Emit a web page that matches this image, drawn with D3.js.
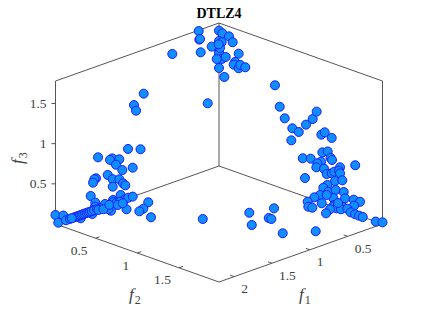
<!DOCTYPE html>
<html lang="en">
<head>
<meta charset="UTF-8">
<title>DTLZ4</title>
<script src="https://d3js.org/d3.v7.min.js"></script>
<style>
    html, body { margin: 0; padding: 0; background: #fff; }
    svg { display: block; }
    text { font-family: "Liberation Serif", serif; }
    .tick-label { font-size: 13.5px; fill: #404040; }
    .axis-line { stroke: #555; stroke-width: 1; fill: none; }
    .point { fill: #0f8fff; stroke: #1a1aff; stroke-width: 1; }
</style>
</head>
<body>
<script>
    const title = "DTLZ4";
    const f1Limits = [0.04, 2.2];
    const f2Limits = [0.02, 1.98];
    const f3Limits = [0, 1.78];
    const f1Ticks = [0.5, 1, 1.5, 2];
    const f2Ticks = [0.5, 1, 1.5];
    const f3Ticks = [0.5, 1, 1.5];

    // front of the f1 = min wall, then floor, then the f2 = min wall
    const f1Values = [
        0.04, 0.04, 0.04, 0.04, 0.04, 0.04, 0.04, 0.04, 0.04, 0.04,
        0.04, 0.04, 0.04, 0.04, 0.04, 0.04, 0.04, 0.04, 0.04,
        0.04, 0.04, 0.04, 0.04, 0.04, 0.04, 0.04, 0.04, 0.04, 0.04,
        0.04, 0.04, 0.04, 0.04, 0.04, 0.04, 0.04, 0.04, 0.04, 0.04,
        0.04, 0.04, 0.04, 0.04, 0.04, 0.04, 0.04, 0.04, 0.04, 0.04,
        0.04, 0.04, 0.04, 0.04, 0.04, 0.04, 0.04, 0.04, 0.04, 0.04,
        0.04, 0.04, 0.04, 0.04, 0.04, 0.04,
        0.04, 0.04, 0.04,
        0.056, 0.051, 0.113, 0.214, 0.04, 0.04, 0.04, 0.04, 0.04, 0.04,
        0.04, 0.04, 0.119, 0.208, 0.2,
        0.71, 0.922, 0.68, 0.681, 0.465, 0.872, 0.617, 1.134, 0.04,
        0.308, 0.3, 0.291, 0.657, 0.282, 0.136, 0.044, 0.07, 0.189,
        1.035, 1.163, 1.136, 1.242, 1.077, 1.638, 1.45, 1.48, 1.357, 1.401,
        1.317, 1.18, 1.51, 1.665, 1.687, 1.704, 1.444, 1.357, 1.308, 1.278,
        1.444, 1.735, 1.339, 1.674, 1.44, 1.436, 1.282, 1.238, 1.18,
        1.183, 1.457, 1.335, 1.41, 1.444, 1.586, 1.572, 1.415, 1.358, 1.546,
        1.612, 1.678, 1.77, 1.7, 1.927,
        1.965, 1.94, 1.92, 1.9, 1.876, 1.855, 1.833, 1.81, 1.788, 1.766, 1.744, 1.72, 1.69, 1.65,
        2.2, 2.097, 2.163, 2.061, 2.008, 1.986, 1.656, 1.609, 1.489, 1.436, 1.371
    ];
    const f2Values = [
        0.02, 0.06, 0.14, 0.184, 0.02, 0.052, 0.02, 0.02, 0.056, 0.1,
        0.02, 0.084, 0.256, 0.212, 0.196, 0.256, 0.275, 0.335, 0.032,
        0.691, 0.748, 0.808, 0.899, 0.976, 0.887, 1.063, 1.143, 1.191, 1.247,
        1.287, 1.371, 1.259, 1.323, 1.024, 1.119, 1.357, 1.375, 1.243, 1.199,
        1.187, 1.279, 1.311, 1.371, 1.402, 1.471, 1.459, 1.471, 1.653, 1.051,
        1.411, 1.498, 1.319, 1.271, 1.331, 1.419, 1.515, 1.231, 1.163, 1.39,
        1.531, 1.635, 1.711, 1.639, 1.311, 1.402,
        1.447, 1.507, 1.387,
        1.266, 1.441, 1.417, 1.461, 1.483, 1.558, 1.599, 1.651, 1.699, 1.743,
        1.899, 1.98, 1.155, 1.243, 1.284,
        0.991, 1.213, 1.197, 1.229, 1.065, 1.539, 1.703, 0.818, 1.447,
        0.02, 0.02, 0.02, 0.02, 0.02, 0.02, 0.02, 0.02, 0.02,
        0.02, 0.02, 0.02, 0.02, 0.02, 0.02, 0.02, 0.02, 0.02, 0.02,
        0.02, 0.02, 0.02, 0.02, 0.02, 0.02, 0.02, 0.02, 0.02, 0.02,
        0.02, 0.02, 0.02, 0.02, 0.02, 0.02, 0.02, 0.02, 0.02,
        0.209, 0.197, 0.288, 0.308, 0.479, 0.128, 0.083, 0.033, 0.03, 0.02,
        0.02, 0.02, 0.071, 0.02, 0.075,
        0.02, 0.02, 0.02, 0.02, 0.02, 0.02, 0.02, 0.02, 0.02, 0.02, 0.02, 0.02, 0.02, 0.02,
        0.02, 0.02, 0.02, 0.02, 0.02, 0.02, 0.04, 0.058, 0.02, 0.072, 0.073
    ];
    const f3Values = [
        1.685, 1.667, 1.658, 1.601, 1.556, 1.552, 1.444, 1.403, 1.346, 1.387,
        1.22, 1.132, 1.485, 1.366, 1.326, 1.304, 1.352, 1.345, 1.474,
        1.252, 1.006, 0.884, 0.793, 0.776, 0.639, 0.899, 0.998, 1.108, 0.842,
        0.886, 0.847, 0.626, 0.661, 0.466, 0.496, 0.595, 0.574, 0.504, 0.468,
        0.413, 0.43, 0.376, 0.407, 0.438, 0.518, 0.472, 0.443, 0.611, 0.23,
        0.325, 0.366, 0.242, 0.19, 0.163, 0.217, 0.227, 0.085, 0.031, 0.106,
        0.154, 0.176, 0.178, 0.102, 0.115, 0.024,
        0.027, 0.037, 0,
        0, 0, 0, 0, 0, 0.035, 0.005, 0, 0, 0,
        0, 0.021, 0, 0, 0,
        0, 0, 0, 0, 0, 0, 0, 0, 0.065,
        1.77, 1.66, 1.665, 1.601, 1.496, 1.518, 1.516, 1.342, 0.83,
        1.233, 1.134, 1.055, 0.614, 0.555, 0.642, 0.566, 0.557, 0.524, 0.471,
        0.377, 0.36, 0.38, 0.39, 0.385, 0.349, 0.304, 0.275, 0.208, 0.173,
        0.212, 0.193, 0.073, 0.09, 0.045, 0.019, 0, 0.006, 0,
        0, 0, 0, 0, 0, 0, 0, 0, 0, 0.03,
        0, 0.041, 0, 0.007, 0,
        0, 0, 0, 0, 0, 0, 0, 0, 0, 0, 0, 0, 0, 0,
        0.112, 0.07, 0.004, 0, 0, 0, 0, 0, 0, 0, 0
    ];

    const width = 423, height = 317;
    const backX = 219, backY = 166;

    // floor run of each horizontal axis, and the height of the box
    const f1RunX = d3.scaleLinear().domain(f1Limits).range([0, 163.5]);
    const f2RunX = d3.scaleLinear().domain(f2Limits).range([0, 163.5]);
    const f1RunY = d3.scaleLinear().domain(f1Limits).range([0, 58]);
    const f2RunY = d3.scaleLinear().domain(f2Limits).range([0, 58]);
    const f3Rise = d3.scaleLinear().domain(f3Limits).range([0, 143]);

    const project = (f1, f2, f3) => [
        backX + f2RunX(f2) - f1RunX(f1),
        backY + f1RunY(f1) + f2RunY(f2) - f3Rise(f3)
    ];

    const svg = d3.select("body").append("svg")
        .attr("width", width)
        .attr("height", height);

    const [f1Lo, f1Hi] = f1Limits;
    const [f2Lo, f2Hi] = f2Limits;
    const [f3Lo, f3Hi] = f3Limits;

    const boxEdges = [
        [[f1Hi, f2Lo, f3Lo], [f1Hi, f2Hi, f3Lo]],
        [[f1Hi, f2Hi, f3Lo], [f1Lo, f2Hi, f3Lo]],
        [[f1Hi, f2Lo, f3Lo], [f1Lo, f2Lo, f3Lo]],
        [[f1Lo, f2Lo, f3Lo], [f1Lo, f2Hi, f3Lo]],
        [[f1Hi, f2Lo, f3Lo], [f1Hi, f2Lo, f3Hi]],
        [[f1Lo, f2Lo, f3Lo], [f1Lo, f2Lo, f3Hi]],
        [[f1Lo, f2Hi, f3Lo], [f1Lo, f2Hi, f3Hi]],
        [[f1Hi, f2Lo, f3Hi], [f1Lo, f2Lo, f3Hi]],
        [[f1Lo, f2Lo, f3Hi], [f1Lo, f2Hi, f3Hi]]
    ];
    const edgeLine = d3.line();

    svg.selectAll(".axis-line")
        .data(boxEdges)
        .enter().append("path")
        .attr("class", "axis-line")
        .attr("d", d => edgeLine(d.map(p => project(...p))));

    // ticks on the front floor edges and the left upright
    const tickLen = 4;
    const f1TickData = f1Ticks.map(t => project(t, f2Hi, f3Lo));
    const f2TickData = f2Ticks.map(t => project(f1Hi, t, f3Lo));
    const f3TickData = f3Ticks.map(t => project(f1Hi, f2Lo, t));

    svg.selectAll(".f1-tick").data(f1TickData).enter().append("line")
        .attr("class", "axis-line f1-tick")
        .attr("x1", d => d[0]).attr("y1", d => d[1])
        .attr("x2", d => d[0] - tickLen).attr("y2", d => d[1] - tickLen * 0.355);

    svg.selectAll(".f2-tick").data(f2TickData).enter().append("line")
        .attr("class", "axis-line f2-tick")
        .attr("x1", d => d[0]).attr("y1", d => d[1])
        .attr("x2", d => d[0] + tickLen).attr("y2", d => d[1] - tickLen * 0.355);

    svg.selectAll(".f3-tick").data(f3TickData).enter().append("line")
        .attr("class", "axis-line f3-tick")
        .attr("x1", d => d[0]).attr("y1", d => d[1])
        .attr("x2", d => d[0] - tickLen).attr("y2", d => d[1]);

    // tick labels
    svg.selectAll(".f1-label").data(f1Ticks).enter().append("text")
        .attr("class", "tick-label f1-label")
        .attr("x", d => project(d, f2Hi, f3Lo)[0] + 7)
        .attr("y", d => project(d, f2Hi, f3Lo)[1] + 16.5)
        .text(d => d);

    svg.selectAll(".f2-label").data(f2Ticks).enter().append("text")
        .attr("class", "tick-label f2-label")
        .attr("text-anchor", "end")
        .attr("x", d => project(f1Hi, d, f3Lo)[0] - 8)
        .attr("y", d => project(f1Hi, d, f3Lo)[1] + 16.5)
        .text(d => d);

    svg.selectAll(".f3-label").data(f3Ticks).enter().append("text")
        .attr("class", "tick-label f3-label")
        .attr("text-anchor", "end")
        .attr("x", d => project(f1Hi, f2Lo, d)[0] - 9)
        .attr("y", d => project(f1Hi, f2Lo, d)[1] + 4.5)
        .text(d => d);

    // points
    svg.selectAll(".point")
        .data(f1Values.map((v, i) => [v, f2Values[i], f3Values[i]]))
        .enter().append("circle")
        .attr("class", "point")
        .attr("r", 4.5)
        .attr("cx", d => project(...d)[0])
        .attr("cy", d => project(...d)[1]);

    // axis names, with the index as a subscript
    function axisName(x, y, index, rotate) {
        const t = svg.append("text")
            .attr("transform", `translate(${x},${y}) rotate(${rotate})`)
            .attr("font-size", 17)
            .attr("fill", "#404040");
        t.append("tspan").attr("font-style", "italic").text("f");
        t.append("tspan").attr("font-size", 12).attr("dx", 1).attr("dy", 4).text(index);
    }
    axisName(129, 300, "2", 0);
    axisName(299, 300, "1", 0);
    axisName(23, 164, "3", -90);

    svg.append("text")
        .attr("x", 219)
        .attr("y", 18)
        .attr("text-anchor", "middle")
        .attr("font-size", 14)
        .attr("font-weight", "bold")
        .attr("fill", "#000")
        .text(title);
</script>
</body>
</html>
